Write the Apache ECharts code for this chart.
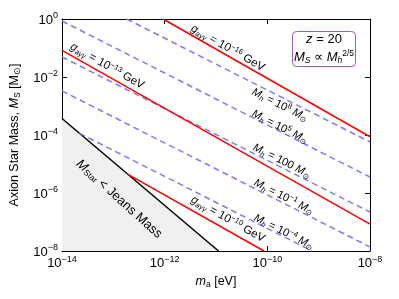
<!DOCTYPE html>
<html><head><meta charset="utf-8">
<script src="https://cdn.jsdelivr.net/npm/echarts@6/dist/echarts.min.js"></script>
<style>html,body{margin:0;padding:0;background:#fff}#c{width:399px;height:299px}</style>
</head><body><div id="c"></div>
<script>
// ---- data (values, not pixels) ----
const xRange = [1e-14, 1e-8];           // m_a [eV]
const yRange = [1e-8, 1];               // M_S [M_sun]
// coupling lines g_aγγ (red, solid): endpoints [m_a, M_S]
const couplingExp = ['−16', '−13', '−10'];
const couplingLines = [
  [[9.3e-13, 1], [1e-8, 8.7e-5]],
  [[1e-14, 8.3e-2], [1e-8, 8.5e-8]],
  [[1.86e-13, 4.6e-6], [8.6e-11, 1e-8]]
];
const couplingLabelAt = [[1.7e-11, 0.10], [7.6e-14, 0.024], [1.7e-11, 1.26e-7]];
// halo-mass lines M_h (blue, dashed)
const haloMass = ['10^8', '10^5', '100', '10^−1', '10^−4'];
const haloLines = [
  [[1.82e-13, 1], [1e-8, 5.75e-5]],
  [[1e-14, 0.853], [1e-8, 3.55e-6]],
  [[1e-14, 0.049], [1e-8, 2.21e-7]],
  [[1e-14, 3.31e-3], [1e-8, 1.38e-8]],
  [[2.19e-14, 1.15e-4], [7.4e-10, 1e-8]]
];
const haloLabelAt = [[1.77e-10, 1.08e-3], [1.77e-10, 1.89e-4], [1.93e-10, 1.27e-5], [2.11e-10, 7.3e-7], [2.11e-10, 4.5e-8]];
// Jeans-mass boundary (black), region below is shaded
const jeansLine = [[1e-14, 3.7e-4], [1.12e-11, 1e-8]];
const jeansLabelAt = [1.29e-13, 6.2e-7];

const FONT = 'Liberation Sans, Arial, Helvetica, sans-serif';
const chart = echarts.init(document.getElementById('c'), null, {renderer: 'canvas'});

function expLabel(v) {
  const e = Math.round(Math.log10(v));
  return '{b|10}{e|' + (e < 0 ? '−' : '') + Math.abs(e) + '}';
}
const tickRich = {
  b: {fontSize: 13, fontFamily: FONT, color: '#000', lineHeight: 15, verticalAlign: 'bottom'},
  e: {fontSize: 9, fontFamily: FONT, color: '#000', lineHeight: 10, verticalAlign: 'top'}
};
const nameRich = {
  n: {fontSize: 12.5, fontFamily: FONT, color: '#000', lineHeight: 15, verticalAlign: 'middle'},
  i: {fontSize: 12.5, fontFamily: FONT, fontStyle: 'italic', color: '#000', lineHeight: 15, verticalAlign: 'middle'},
  s: {fontSize: 8.5, fontFamily: FONT, color: '#000', lineHeight: 9, verticalAlign: 'bottom'}
};
function axisCommon(pos, showLabel) {
  return {
    type: 'log', logBase: 10, interval: 2,
    position: pos,
    axisLine: {show: true, lineStyle: {color: '#000', width: 1}},
    axisTick: {show: true, inside: true, length: 5, lineStyle: {color: '#000', width: 1}},
    minorTick: {show: false},
    splitLine: {show: false},
    axisLabel: showLabel ? {show: true, formatter: expLabel, rich: tickRich, margin: 4} : {show: false}
  };
}

const series = [];
// shaded region below Jeans line
series.push({
  type: 'line', data: jeansLine, symbol: 'none', silent: true, z: 1,
  lineStyle: {color: '#000', width: 1.5},
  areaStyle: {color: '#f0f0f0', opacity: 1, origin: 'start'}
});
haloLines.forEach(d => series.push({
  type: 'line', data: d, symbol: 'none', silent: true, z: 2,
  lineStyle: {color: '#7b7bf7', width: 1.5, type: [6, 4]}
}));
couplingLines.forEach(d => series.push({
  type: 'line', data: d, symbol: 'none', silent: true, z: 3,
  lineStyle: {color: '#ff0000', width: 1.5}
}));

chart.setOption({
  animation: false,
  backgroundColor: '#fff',
  grid: {left: 62, right: 29, top: 19, bottom: 48, containLabel: false},
  xAxis: [
    Object.assign(axisCommon('bottom', true), {min: xRange[0], max: xRange[1],
      name: '{i|m}{s|a}{n| [eV]}', nameLocation: 'middle', nameGap: 20,
      nameTextStyle: {rich: nameRich}}),
    Object.assign(axisCommon('top', false), {min: xRange[0], max: xRange[1]})
  ],
  yAxis: [
    Object.assign(axisCommon('left', true), {min: yRange[0], max: yRange[1],
      name: '{n|Axion Star Mass, }{i|M}{s|S}{n| [M}{s|⊙}{n|]}', nameLocation: 'middle', nameGap: 30,
      nameTextStyle: {rich: nameRich}}),
    Object.assign(axisCommon('right', false), {min: yRange[0], max: yRange[1]})
  ],
  series: series
});

// ---- annotations ----
const toPx = p => chart.convertToPixel({xAxisIndex: 0, yAxisIndex: 0}, p);
function angleOf(line) {
  const a = toPx(line[0]), b = toPx(line[1]);
  return Math.atan2(-(b[1] - a[1]), b[0] - a[0]);
}
const lblRich = {
  n: {fontSize: 11.5, fontFamily: FONT, color: '#000', lineHeight: 14, verticalAlign: 'middle'},
  i: {fontSize: 11.5, fontFamily: FONT, fontStyle: 'italic', color: '#000', lineHeight: 14, verticalAlign: 'middle'},
  s: {fontSize: 7.5, fontFamily: FONT, fontStyle: 'italic', color: '#000', lineHeight: 9, verticalAlign: 'bottom'},
  u: {fontSize: 7.5, fontFamily: FONT, color: '#000', lineHeight: 9, verticalAlign: 'bottom'},
  p: {fontSize: 7.5, fontFamily: FONT, color: '#000', lineHeight: 9, verticalAlign: 'top'}
};
const graphics = [];
function addText(pt, rot, text, rich) {
  const p = toPx(pt);
  graphics.push({type: 'text', x: p[0], y: p[1], rotation: rot, z: 10, silent: true,
    style: {text: text, rich: rich || lblRich, align: 'center', verticalAlign: 'middle', fill: '#000'}});
}
couplingLines.forEach((l, k) => {
  addText(couplingLabelAt[k], angleOf(l), '{i|g}{s|aγγ}{n| = 10}{p|' + couplingExp[k] + '}{n| GeV}');
});
haloLines.forEach((l, k) => {
  const m = haloMass[k];
  let t;
  if (m.indexOf('^') >= 0) {
    const parts = m.split('^');
    t = '{i|M}{s|h}{n| = ' + parts[0] + '}{p|' + parts[1] + '}{i| M}{u|⊙}';
  } else {
    t = '{i|M}{s|h}{n| = ' + m + '}{i| M}{u|⊙}';
  }
  addText(haloLabelAt[k], angleOf(l) , t, Object.assign({}, lblRich, {
    n: Object.assign({}, lblRich.n, {fontSize: 11}), i: Object.assign({}, lblRich.i, {fontSize: 11})}));
});
addText(jeansLabelAt, angleOf(jeansLine) - 0.03, '{i|M}{u|Star}{n| < Jeans Mass}', Object.assign({}, lblRich, {
  n: Object.assign({}, lblRich.n, {fontSize: 13}), i: Object.assign({}, lblRich.i, {fontSize: 13}),
  u: Object.assign({}, lblRich.u, {fontSize: 8.5})}));

// legend box (purple)
const PUR = '#8e2a96';
const legRich = {
  n: {fontSize: 13, fontFamily: FONT, color: PUR, lineHeight: 16, verticalAlign: 'middle'},
  i: {fontSize: 13, fontFamily: FONT, fontStyle: 'italic', color: PUR, lineHeight: 16, verticalAlign: 'middle'},
  s: {fontSize: 8.5, fontFamily: FONT, fontStyle: 'italic', color: PUR, lineHeight: 10, verticalAlign: 'bottom'},
  p: {fontSize: 8.5, fontFamily: FONT, color: PUR, lineHeight: 10, verticalAlign: 'top'}
};
graphics.push({type: 'rect', shape: {x: 292.5, y: 31.5, width: 63, height: 35, r: 4}, z: 10, silent: true,
  style: {fill: '#fff', stroke: '#a45cb4', lineWidth: 1}});
graphics.push({type: 'text', x: 324, y: 39.5, z: 11, silent: true,
  style: {text: '{i|z}{n| = 20}', rich: legRich, align: 'center', verticalAlign: 'middle'}});
graphics.push({type: 'text', x: 324, y: 57, z: 11, silent: true,
  style: {text: '{i|M}{s|S}{n| ∝ }{i|M}{s|h}{p|2/5}', rich: legRich, align: 'center', verticalAlign: 'middle'}});

chart.setOption({graphic: graphics});
</script></body></html>
